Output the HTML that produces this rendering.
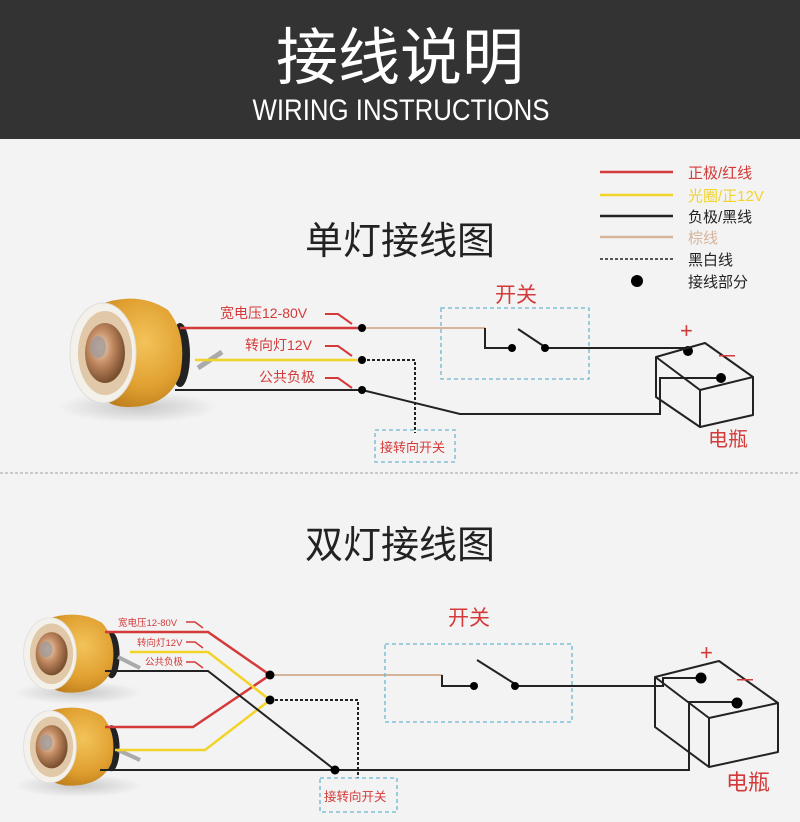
<!DOCTYPE html>
<html><head><meta charset="utf-8"><style>
html,body{margin:0;padding:0;background:#f3f3f3;}
svg{display:block;}
text{font-family:"Liberation Sans","Noto Sans CJK SC",sans-serif;}
</style></head><body>
<svg width="800" height="822" viewBox="0 0 800 822" xmlns="http://www.w3.org/2000/svg">
<defs>
<radialGradient id="gold" cx="0.6" cy="0.4" r="0.7">
<stop offset="0" stop-color="#f3c35a"/><stop offset="0.6" stop-color="#e0a030"/><stop offset="1" stop-color="#b87818"/></radialGradient>
<radialGradient id="lens" cx="0.4" cy="0.4" r="0.6">
<stop offset="0" stop-color="#f0d8c0"/><stop offset="0.5" stop-color="#c08860"/><stop offset="1" stop-color="#7a5030"/></radialGradient>
<radialGradient id="shadow" cx="0.5" cy="0.5" r="0.5">
<stop offset="0" stop-color="#000" stop-opacity="0.18"/><stop offset="1" stop-color="#000" stop-opacity="0"/></radialGradient>
<g id="lamp">
<ellipse cx="70" cy="112" rx="80" ry="16" fill="url(#shadow)"/>
<ellipse cx="112" cy="60" rx="10" ry="32" fill="#222"/>
<path d="M30 10 Q70 -5 100 15 Q120 40 112 80 Q100 112 60 112 Q30 112 20 80 Z" fill="url(#gold)"/>
<ellipse cx="35" cy="58" rx="33" ry="50" fill="#f4f1ea" stroke="#ddd"/>
<ellipse cx="37" cy="58" rx="27" ry="42" fill="#e0c8a8"/>
<ellipse cx="37" cy="58" rx="20" ry="30" fill="url(#lens)"/>
<ellipse cx="30" cy="52" rx="8" ry="11" fill="#a09a98" opacity="0.8"/>
</g>
</defs>

<!-- header -->
<rect x="0" y="0" width="800" height="139" fill="#333"/>
<text x="400" y="79" font-size="62" fill="#fff" text-anchor="middle" font-family="'Noto Sans CJK SC',sans-serif">接线说明</text>
<text x="401" y="120" font-size="30" fill="#fff" text-anchor="middle" font-weight="300" textLength="297" lengthAdjust="spacingAndGlyphs">WIRING INSTRUCTIONS</text>

<!-- legend -->
<g stroke-width="2.5">
<line x1="600" y1="172" x2="673" y2="172" stroke="#d43a3a"/>
<line x1="600" y1="195" x2="673" y2="195" stroke="#f2d32a"/>
<line x1="600" y1="216" x2="673" y2="216" stroke="#222"/>
<line x1="600" y1="237" x2="673" y2="237" stroke="#d6b49a"/>
<line x1="600" y1="259" x2="673" y2="259" stroke="#222" stroke-width="1.5" stroke-dasharray="3,2"/>
</g>
<circle cx="637" cy="281" r="6" fill="#000"/>
<g font-size="15">
<text x="688" y="178" fill="#d43a3a">正极/红线</text>
<text x="688" y="201" fill="#f2d32a">光圈/正12V</text>
<text x="688" y="222" fill="#222">负极/黑线</text>
<text x="688" y="243" fill="#d6b49a">棕线</text>
<text x="688" y="265" fill="#222">黑白线</text>
<text x="688" y="287" fill="#222">接线部分</text>
</g>

<!-- section 1 -->
<text x="400" y="254" font-size="38" fill="#222" text-anchor="middle">单灯接线图</text>
<use href="#lamp" transform="translate(68,295)"/>
<path d="M198 368 L222 352" stroke="#aaa" stroke-width="5"/>
<line x1="180" y1="328" x2="362" y2="328" stroke="#d43a3a" stroke-width="2.5"/>
<line x1="195" y1="360" x2="362" y2="360" stroke="#f2d32a" stroke-width="2.5"/>
<line x1="175" y1="390" x2="362" y2="390" stroke="#222" stroke-width="2"/>
<polyline points="362,328 485,328" stroke="#d6b49a" stroke-width="2" fill="none"/>
<polyline points="485,328 485,348 512,348" stroke="#222" stroke-width="2" fill="none"/>
<line x1="518" y1="329" x2="545" y2="347" stroke="#222" stroke-width="2"/>
<line x1="545" y1="348" x2="688" y2="348" stroke="#222" stroke-width="2"/>
<polyline points="362,390 460,414 660,414 660,378 720,378" stroke="#222" stroke-width="2" fill="none"/>
<polyline points="362,360 415,360 415,433" stroke="#222" stroke-width="2" stroke-dasharray="3,2" fill="none"/>
<g fill="#000"><circle cx="362" cy="328" r="4"/><circle cx="362" cy="360" r="4"/><circle cx="362" cy="390" r="4"/>
<circle cx="512" cy="348" r="4"/><circle cx="545" cy="348" r="4"/><circle cx="688" cy="351" r="5"/><circle cx="721" cy="378" r="5"/></g>
<rect x="441" y="308" width="148" height="71" fill="none" stroke="#6cb8d0" stroke-width="1.3" stroke-dasharray="4,3"/>
<text x="495" y="302" font-size="21" fill="#d43a3a">开关</text>
<rect x="375" y="430" width="80" height="32" fill="none" stroke="#6cb8d0" stroke-width="1.3" stroke-dasharray="4,3"/>
<text x="380" y="452" font-size="13" fill="#d43a3a">接转向开关</text>
<g fill="none" stroke="#222" stroke-width="2" stroke-linejoin="round">
<polygon points="656,357 705,343 753,377 700,390"/>
<polyline points="656,357 656,397 700,427 753,415 753,377"/>
<line x1="700" y1="390" x2="700" y2="427"/>
</g>
<text x="680" y="338" font-size="22" fill="#d43a3a">+</text>
<text x="716" y="364" font-size="22" fill="#d43a3a">－</text>
<text x="708" y="446" font-size="20" fill="#d43a3a">电瓶</text>
<g font-size="14" fill="#d43a3a">
<text x="220" y="318">宽电压12-80V</text><text x="245" y="350">转向灯12V</text><text x="259" y="382">公共负极</text></g>
<g stroke="#d43a3a" stroke-width="2" fill="none">
<polyline points="325,314 338,314 352,324"/><polyline points="325,346 338,346 352,356"/><polyline points="325,378 338,378 352,388"/></g>

<!-- divider -->
<line x1="0" y1="473" x2="800" y2="473" stroke="#bbb" stroke-width="1.5" stroke-dasharray="3,2"/>

<!-- section 2 -->
<text x="400" y="558" font-size="38" fill="#222" text-anchor="middle">双灯接线图</text>
<use href="#lamp" transform="translate(22,612) scale(0.8,0.72)"/>
<use href="#lamp" transform="translate(22,705) scale(0.8,0.72)"/>
<path d="M118 657 L140 668" stroke="#aaa" stroke-width="4"/>
<path d="M118 750 L140 760" stroke="#aaa" stroke-width="4"/>
<g fill="none" stroke-width="2.5">
<polyline points="105,632 208,632 270,675" stroke="#d43a3a"/>
<polyline points="105,727 193,727 270,675" stroke="#d43a3a"/>
<polyline points="130,652 208,652 270,700" stroke="#f2d32a"/>
<polyline points="115,750 205,750 270,700" stroke="#f2d32a"/>
<polyline points="105,671 208,671 335,770" stroke="#222" stroke-width="2"/>
<polyline points="100,770 689,770 689,702 737,702" stroke="#222" stroke-width="2"/>
<line x1="270" y1="675" x2="442" y2="675" stroke="#d6b49a" stroke-width="2"/>
<polyline points="442,675 442,686 474,686" stroke="#222" stroke-width="2"/>
<line x1="477" y1="660" x2="515" y2="684" stroke="#222" stroke-width="2"/>
<polyline points="515,686 663,686 663,678 700,678" stroke="#222" stroke-width="2"/>
<polyline points="270,700 358,700 358,778" stroke="#222" stroke-width="2" stroke-dasharray="3,2"/>
</g>
<g fill="#000"><circle cx="270" cy="675" r="4.5"/><circle cx="270" cy="700" r="4.5"/><circle cx="335" cy="770" r="4.5"/>
<circle cx="474" cy="686" r="4"/><circle cx="515" cy="686" r="4"/><circle cx="701" cy="678" r="5.5"/><circle cx="737" cy="703" r="5.5"/></g>
<rect x="385" y="644" width="187" height="78" fill="none" stroke="#6cb8d0" stroke-width="1.3" stroke-dasharray="4,3"/>
<text x="448" y="625" font-size="21" fill="#d43a3a">开关</text>
<rect x="320" y="778" width="77" height="34" fill="none" stroke="#6cb8d0" stroke-width="1.3" stroke-dasharray="4,3"/>
<text x="324" y="801" font-size="12.5" fill="#d43a3a">接转向开关</text>
<g fill="none" stroke="#222" stroke-width="2" stroke-linejoin="round">
<polygon points="655,677 719,661 778,703 709,718"/>
<polyline points="655,677 655,727 709,767 778,752 778,703"/>
<line x1="709" y1="718" x2="709" y2="767"/>
</g>
<text x="700" y="660" font-size="22" fill="#d43a3a">+</text>
<text x="734" y="688" font-size="22" fill="#d43a3a">－</text>
<text x="726" y="790" font-size="22" fill="#d43a3a">电瓶</text>
<g font-size="9.5" fill="#d43a3a">
<text x="118" y="626">宽电压12-80V</text><text x="137" y="646">转向灯12V</text><text x="145" y="665">公共负极</text></g>
<g stroke="#d43a3a" stroke-width="1.5" fill="none">
<polyline points="186,622 195,622 203,628"/><polyline points="186,642 195,642 203,648"/><polyline points="186,662 195,662 203,668"/></g>
</svg>
</body></html>
